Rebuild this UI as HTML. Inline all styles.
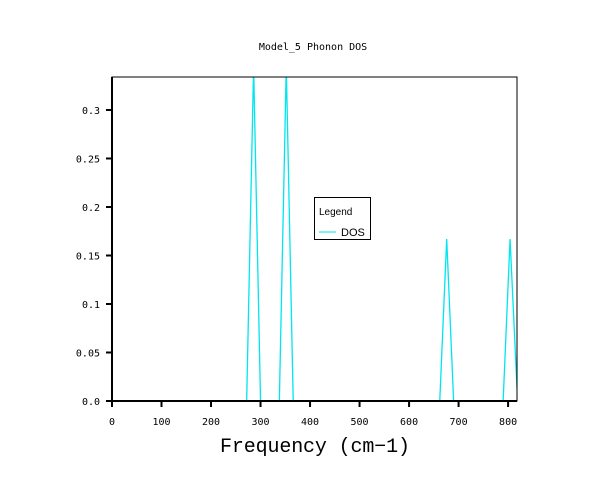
<!DOCTYPE html>
<html><head><meta charset="utf-8"><style>
body{margin:0;background:#fff}
svg text{font-family:"DejaVu Sans Mono","Liberation Mono",monospace}
</style></head><body>
<svg width="610" height="493" viewBox="0 0 610 493">
<text x="313" y="50" font-size="10" text-anchor="middle">Model_5 Phonon DOS</text>
<defs><clipPath id="pc"><rect x="112" y="77" width="405" height="324"/></clipPath></defs>
<g id="series" clip-path="url(#pc)"></g>
<g id="axes"></g>
<text x="315" y="452" font-size="20" text-anchor="middle" style="font-family:'Liberation Mono',monospace" textLength="190">Frequency (cm−1)</text>
<g>
<rect x="314.5" y="197.5" width="56" height="42" fill="#fff" stroke="#000"/>
<text x="319" y="215" font-size="10" style="font-family:'Liberation Sans',sans-serif">Legend</text>
<line x1="319" y1="232" x2="336" y2="232" stroke="#00e5ee"/>
<text x="341" y="236" font-size="11" style="font-family:'Liberation Sans',sans-serif">DOS</text>
</g>
</svg>
<script>
const freq=[0,272,286,300,338,352,366,662,676,690,790,804,818];
const dos=[0,0,0.345,0,0,0.345,0,0,0.167,0,0,0.167,0.013];
const xTicks=[0,100,200,300,400,500,600,700,800];
const yTicks=[0,0.05,0.1,0.15,0.2,0.25,0.3];
const yTickLabels=["0.0","0.05","0.1","0.15","0.2","0.25","0.3"];
const X0=112,X1=517,Y0=401,Y1=77,XMAX=818,YMAX=0.334;
const xs=v=>X0+(X1-X0)*v/XMAX, ys=v=>Y0-(Y0-Y1)*v/YMAX;
const NS='http://www.w3.org/2000/svg';
function mk(t,a,p){const e=document.createElementNS(NS,t);for(const k in a)e.setAttribute(k,a[k]);p.appendChild(e);return e;}
const s=document.getElementById('series');
const pl=mk('polyline',{points:freq.map((f,i)=>xs(f)+','+ys(dos[i])).join(' '),fill:'none',stroke:'#00e5ee','stroke-width':1.3},s);


const a=document.getElementById('axes');
const fr=mk('rect',{x:X0,y:Y1,width:X1-X0,height:Y0-Y1,fill:'none',stroke:'#000','stroke-width':1},a);


mk('line',{x1:X0,y1:Y0,x2:X1,y2:Y0,stroke:'#000','stroke-width':2},a);
mk('line',{x1:X0,y1:Y1,x2:X0,y2:Y0,stroke:'#000','stroke-width':2},a);
xTicks.forEach(v=>{const x=xs(v);
 mk('line',{x1:x,y1:Y0,x2:x,y2:Y0+6,stroke:'#000','stroke-width':2},a);
 const t=mk('text',{x:x,y:Y0+24,'font-size':10,'text-anchor':'middle'},a);t.textContent=v;
 
 });
yTicks.forEach((v,i)=>{const y=ys(v);
 mk('line',{x1:X0-6,y1:y,x2:X0,y2:y,stroke:'#000','stroke-width':2},a);
 const t=mk('text',{x:X0-12,y:y+4,'font-size':10,'text-anchor':'end'},a);t.textContent=yTickLabels[i];
 
 });
</script>
</body></html>
